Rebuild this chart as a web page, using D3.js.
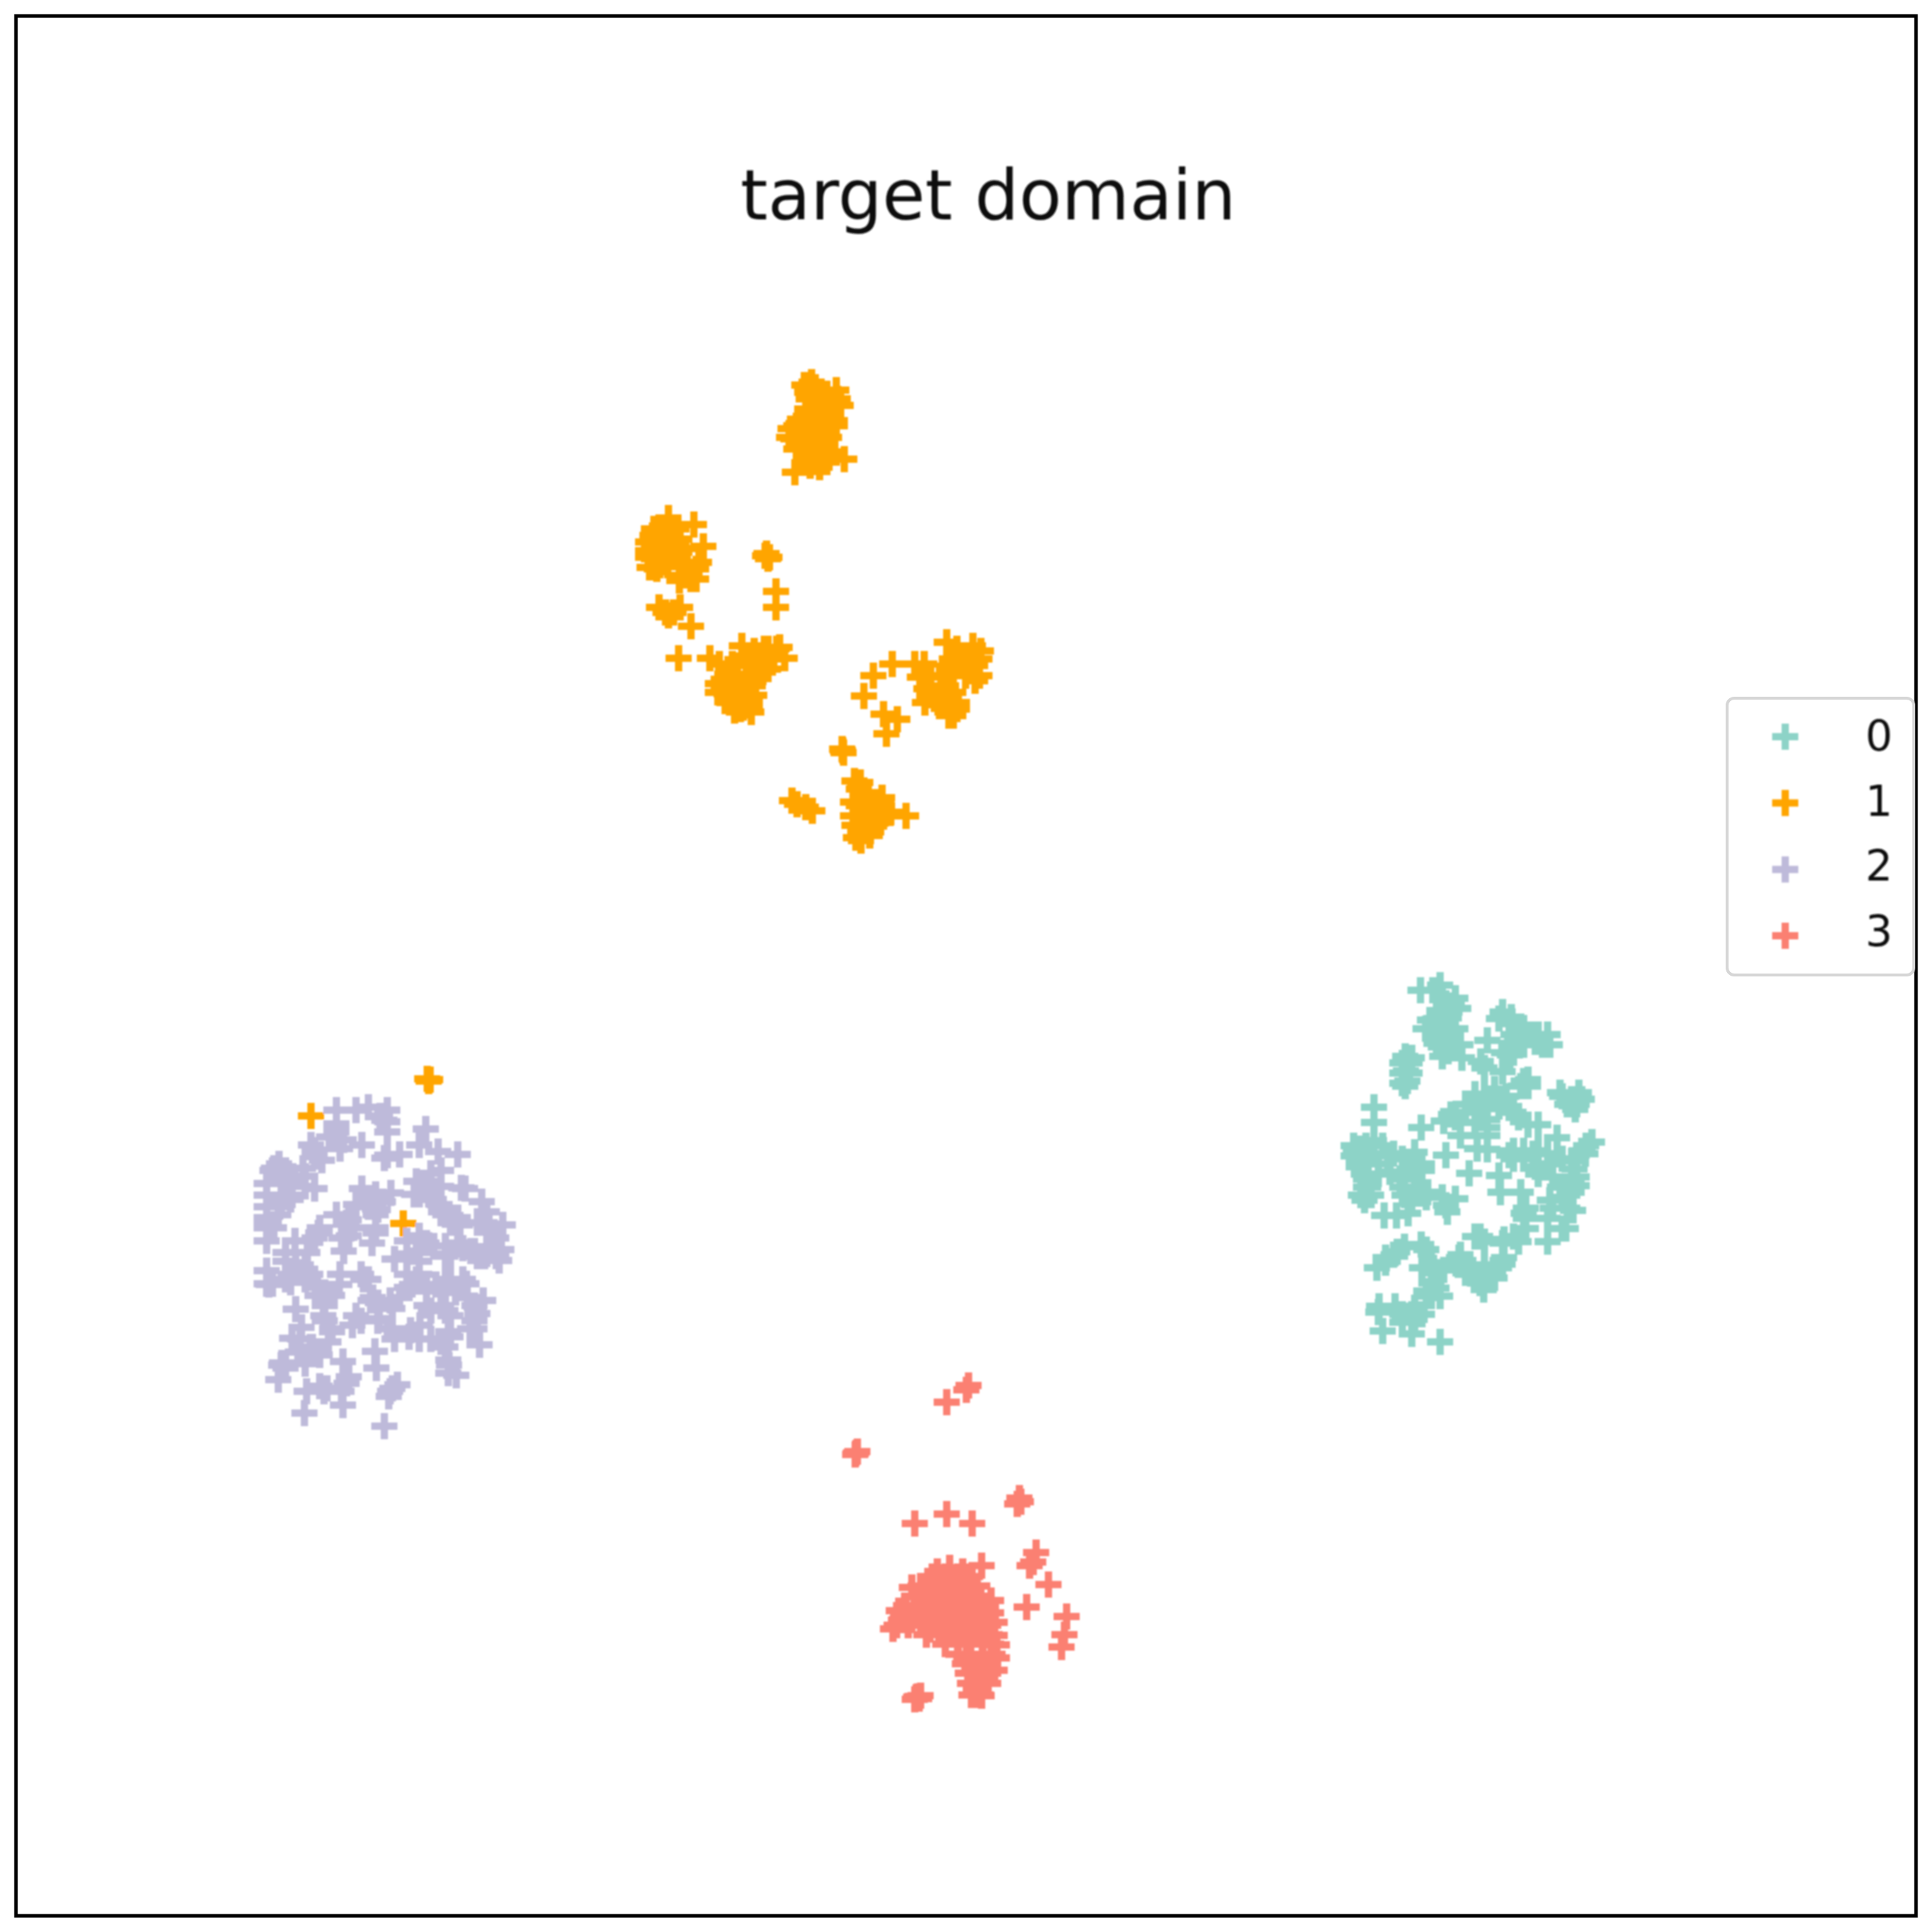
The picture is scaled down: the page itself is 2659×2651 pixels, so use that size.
<!DOCTYPE html>
<html>
    <head>
        <meta charset="utf-8">
        <style>
            html, body { margin: 0; padding: 0; background: #fff; }
            svg { display: block; }
            text { font-family: "DejaVu Sans", sans-serif; fill: #111; }
        </style>
    </head>
    <body>
        <svg width="2659" height="2651"></svg>
        <script src="https://d3js.org/d3.v7.min.js"></script>
        <script>
            //points, one list per class, [x, y]
            var class0 = [[1982,1356],[1955,1363],[1972,1363],[1998,1384],[1982,1391],[2003,1374],[1968,1404],[1995,1393],[1962,1416],[1987,1418],[2003,1416],[1977,1436],[1993,1447],[2012,1456],[1985,1454],[2047,1432],[2038,1461],[2043,1470],[2068,1393],[2080,1400],[2097,1415],[2088,1434],[2113,1434],[2130,1424],[2133,1438],[2078,1452],[2068,1475],[2103,1486],[1934,1454],[1935,1474],[1930,1491],[1934,1495],[2147,1504],[2173,1504],[2163,1520],[2168,1527],[1891,1524],[1891,1545],[1866,1586],[1870,1581],[1891,1570],[1903,1577],[1870,1598],[1882,1602],[1918,1588],[1947,1586],[1957,1611],[1933,1613],[1897,1616],[1880,1634],[1878,1652],[1905,1673],[1922,1673],[1938,1670],[1930,1634],[1947,1634],[1965,1641],[1985,1648],[2003,1650],[1992,1668],[1956,1552],[1987,1543],[2003,1538],[2017,1531],[2033,1524],[2047,1513],[2057,1499],[2073,1509],[2083,1531],[2103,1548],[2117,1548],[1990,1590],[2022,1615],[2010,1563],[2030,1545],[2047,1563],[2033,1581],[2047,1582],[2077,1590],[2097,1595],[2117,1584],[2143,1566],[2191,1572],[2182,1588],[2150,1595],[2167,1609],[2063,1618],[2065,1641],[2093,1641],[2117,1616],[2137,1620],[2170,1632],[2147,1634],[2133,1652],[2165,1666],[2097,1670],[2130,1677],[2150,1691],[2130,1709],[2155,1691],[2030,1702],[2068,1711],[2090,1709],[2100,1691],[2068,1740],[2055,1748],[2042,1775],[2033,1754],[2008,1731],[1973,1745],[1970,1766],[1967,1784],[1982,1784],[1956,1713],[1933,1716],[1918,1727],[1907,1738],[1895,1745],[1898,1798],[1920,1798],[1943,1809],[1947,1800],[1903,1832],[1943,1836],[1982,1847],
                [1977,1402],[1990,1381],[2007,1388],[1970,1416],[1977,1424],[1997,1431],[2010,1438],[1983,1441],[1930,1463],[1940,1463],[1940,1477],[1930,1477],[1937,1488],[1943,1456],
                [2083,1424],[2097,1427],[2107,1424],[2097,1438],[2080,1441],[2117,1424],[2123,1438],[2070,1449],[2083,1449],[2063,1402],[2077,1409],
                [2150,1509],[2163,1513],[2177,1513],[2157,1520],[2170,1520],[2097,1488],[2103,1495],[2093,1495],
                [2030,1506],[2043,1506],[2057,1513],[2043,1523],[2030,1516],[2017,1520],[2063,1523],[2077,1523],[2070,1513],[2047,1541],[2047,1552],[1997,1534],[2010,1545],[2090,1538],
                [1863,1577],[1880,1577],[1863,1591],[1877,1591],[1870,1606],[1877,1616],[1890,1588],[1897,1602],[1910,1591],[1913,1613],[1930,1595],[1940,1609],[1957,1602],[1927,1623],[1880,1623],[1873,1645],[1887,1645],[1883,1634],[1933,1645],[1943,1656],[1963,1648],[1990,1659],
                [2083,1584],[2097,1584],[2110,1588],[2130,1588],[2083,1595],[2130,1602],[2163,1598],[2177,1584],[2183,1577],[2163,1623],[2163,1641],[2150,1648],[2137,1663],[2157,1663],[2170,1620],[2100,1663],[2100,1677],[2113,1606],
                [2070,1706],[2083,1702],[2043,1709],[2037,1702],
                [1923,1723],[1907,1731],[1963,1720],[1970,1738],[1957,1745],[1970,1752],[1987,1748],[2007,1741],[2027,1748],[2043,1741],[2063,1745],[2057,1759],[2037,1766],[2017,1752],[2010,1727],[1963,1777],[1977,1773],[1970,1784],[2070,1731],
                [1930,1809],[1947,1816],[1930,1820],[1897,1806],[1957,1809],[1943,1820]];

            var class1 = [[1117,526],[1122,533],[1111,540],[1126,549],[1138,542],[1151,537],[1113,549],[1145,553],[1157,558],[1126,560],[1140,563],[1122,574],[1103,592],[1086,602],[1099,583],[1111,590],[1122,590],[1138,592],[1149,586],[1119,604],[1134,609],[1141,602],[1103,618],[1094,650],[1128,643],[1162,632],[1138,627],[1122,627],[1115,613],[1099,602],[1149,579],[1130,579],[1111,570],[1096,618],
                [1107,530],[1122,558],[1111,563],[1138,558],[1153,549],[1096,586],[1088,590],[1119,579],[1138,579],[1107,599],[1126,604],[1092,604],[1122,636],[1138,636],[1115,641],[1149,622],
                [920,720],[912,726],[931,728],[898,737],[955,722],[892,746],[892,758],[892,767],[910,751],[927,746],[910,765],[927,767],[968,752],[962,774],[951,797],[894,781],[935,778],[946,774],[919,778],[908,778],[958,797],[935,799],[944,755],[919,755],[904,783],
                [900,728],[920,713],[912,737],[923,737],[935,742],[900,755],[912,774],[923,760],[935,760],[942,792],[958,783],[900,769],
                [1053,765],[1057,769],[1055,762],[1059,767],[1068,814],[1068,836],
                [907,836],[920,847],[936,836],[951,862],[916,843],[927,843],[934,906],
                [977,906],[990,914],[1008,914],[1021,889],[1038,896],[1052,893],[1073,891],[1080,906],[1065,907],[1050,912],[1030,907],[1057,921],[1042,923],[1027,928],[1002,921],[988,941],[1004,939],[1019,944],[1036,944],[1013,962],[1032,962],[1011,976],[1032,971],[1000,955],[1023,958],[1050,925],[996,935],[1023,974],
                [1046,902],[1057,893],[1069,893],[1034,916],[1015,916],[996,944],[1008,953],[1027,948],[1038,957],[1004,967],[1019,976],[1034,980],[1011,978],[988,953],
                [1202,930],[1189,958],[1228,914],[1259,914],[1272,914],[1303,884],[1317,893],[1339,889],[1350,896],[1342,916],[1325,907],[1310,907],[1342,937],[1329,930],[1298,932],[1281,932],[1266,932],[1295,953],[1275,948],[1312,953],[1317,967],[1273,967],[1286,962],[1312,985],[1306,976],[1216,983],[1235,990],[1220,1010],[1302,944],
                [1317,916],[1333,902],[1348,907],[1333,921],[1348,930],[1306,921],[1295,930],[1298,948],[1306,962],[1291,967],[1317,976],[1306,985],[1279,957],
                [1160,1033],[1159,1031],[1161,1036],
                [1090,1102],[1097,1107],[1118,1116],[1109,1111],
                [1176,1075],[1182,1086],[1214,1098],[1193,1104],[1182,1109],[1210,1118],[1174,1123],[1193,1127],[1212,1132],[1247,1123],[1184,1141],[1203,1137],[1178,1153],[1185,1157],[1197,1150],[1187,1118],[1226,1118],[1195,1091],
                [1184,1077],[1187,1095],[1203,1104],[1214,1109],[1184,1123],[1203,1123],[1218,1120],[1176,1136],[1191,1141],[1184,1150],[1199,1113],[1174,1104],
                [428,1536],[588,1485],[592,1486],[590,1488],[555,1684]];

            var class2 = [[463,1528],[490,1528],[507,1524],[533,1528],[529,1542],[533,1558],[463,1558],[463,1547],[498,1576],[468,1581],[428,1576],[433,1592],[586,1554],[577,1576],[603,1585],[630,1589],[550,1589],[529,1594],
                [384,1602],[375,1611],[393,1611],[367,1629],[420,1619],[433,1636],[402,1645],[367,1645],[367,1661],[385,1661],[367,1676],[377,1690],[406,1708],[438,1697],[367,1690],
                [498,1636],[503,1651],[538,1642],[520,1654],[490,1658],[463,1672],[477,1683],[517,1672],[517,1690],[480,1701],[512,1711],[473,1722],[470,1704],
                [573,1626],[593,1626],[607,1611],[635,1635],[570,1644],[590,1644],[605,1658],[663,1654],[630,1676],[620,1683],[673,1685],[692,1686],[683,1704],[690,1720],[687,1735],[657,1729],[670,1726],[648,1722],[630,1711],[613,1729],[597,1715],[577,1701],[560,1708],[543,1733],[560,1731],[577,1736],[560,1754],[577,1754],[613,1761],[642,1767],[610,1776],[665,1790],[643,1786],[627,1779],[587,1777],[567,1768],[550,1786],
                [367,1767],[375,1767],[367,1749],[393,1724],[423,1724],[407,1747],[400,1765],[420,1761],[393,1736],[367,1708],
                [447,1779],[437,1783],[468,1754],[500,1761],[513,1786],[490,1811],[522,1815],[540,1801],[587,1797],[607,1797],[620,1811],[657,1808],[653,1829],[660,1851],[617,1833],[578,1824],[565,1831],[540,1829],[543,1843],[577,1843],[613,1854],[618,1879],[628,1893],[485,1824],[457,1829],[445,1811],[407,1802],[415,1827],[402,1842],[427,1854],[452,1847],[432,1861],[472,1874],[388,1876],[420,1877],[383,1899],[422,1915],[446,1915],[470,1915],[472,1934],[419,1945],[480,1895],[516,1860],[518,1883],[547,1906],[535,1922],[529,1963],[447,1797],
                [463,1554],[453,1565],[473,1569],[433,1583],[443,1597],[523,1536],[533,1544],[533,1590],
                [377,1608],[387,1619],[403,1619],[417,1608],[397,1629],[420,1633],[387,1654],[383,1672],[367,1686],[400,1651],
                [507,1651],[517,1644],[520,1665],[507,1661],[480,1679],[487,1690],[440,1697],[440,1690],[433,1704],[517,1697],[527,1654],
                [593,1615],[583,1633],[577,1644],[597,1651],[607,1633],[640,1636],[670,1668],[667,1683],[657,1683],[620,1676],[633,1686],[613,1672],[607,1668],
                [577,1708],[587,1711],[613,1715],[573,1722],[560,1726],[680,1722],[667,1729],[683,1729],[653,1722],[637,1718],[620,1726],
                [620,1761],[637,1761],[613,1779],[600,1768],[573,1761],[560,1772],
                [410,1751],[420,1747],[393,1761],[370,1768],[427,1754],[400,1754],
                [437,1772],[457,1783],[447,1790],[467,1768],[497,1754],[507,1761],[510,1790],[520,1793],[537,1790],
                [593,1804],[613,1804],[653,1797],[653,1818],[647,1829],[620,1840],[607,1847],[593,1843],[563,1840],[533,1829],[520,1818],[497,1818],
                [447,1818],[457,1833],[430,1854],[440,1865],[413,1843],[410,1861],[393,1883],[387,1879],[440,1908],[450,1911],[477,1904],
                [537,1915],[540,1911],[617,1872],[617,1890]];

            var class3 = [[1333,1907],[1330,1913],[1303,1930],[1178,2000],[1180,1998],[1177,2002],[1403,2062],[1400,2070],[1405,2067],[1303,2084],[1259,2097],[1338,2097],[1426,2137],[1422,2150],[1417,2155],[1443,2181],[1413,2212],[1468,2225],[1465,2250],[1461,2267],[1263,2337],[1263,2335],[1265,2338],[1261,2336],[1259,2339],[1267,2334],
                [1283,2170],[1301,2170],[1318,2170],[1335,2170],[1293,2176],[1310,2176],[1327,2176],
                [1267,2183],[1284,2183],[1301,2183],[1319,2183],[1336,2183],[1345,2183],[1275,2183],
                [1258,2197],[1275,2197],[1292,2197],[1309,2197],[1327,2197],[1344,2197],[1350,2197],[1267,2197],
                [1247,2210],[1266,2210],[1284,2210],[1301,2210],[1318,2210],[1335,2210],[1352,2210],[1357,2210],
                [1243,2223],[1258,2223],[1275,2223],[1292,2223],[1309,2223],[1327,2223],[1344,2223],[1357,2223],
                [1240,2230],[1255,2230],[1272,2230],[1290,2230],
                [1234,2237],[1250,2237],[1267,2237],[1284,2237],[1301,2237],[1318,2237],[1335,2237],[1352,2237],[1360,2237],
                [1280,2243],[1308,2243],[1326,2243],[1344,2243],
                [1275,2250],[1292,2250],[1309,2250],[1327,2250],[1344,2250],[1362,2250],[1229,2242],
                [1301,2263],[1318,2263],[1335,2263],[1352,2263],[1364,2263],
                [1319,2277],[1336,2277],[1353,2277],[1366,2277],[1330,2282],
                [1328,2290],[1345,2290],[1360,2290],[1338,2290],[1352,2290],
                [1332,2303],[1349,2303],[1360,2303],[1340,2303],[1354,2303],
                [1335,2317],[1352,2317],[1343,2317],
                [1337,2333],[1350,2333],[1344,2333],[1343,2325],
                [1364,2203],[1364,2220],[1369,2233],[1369,2251],[1372,2264],[1372,2282],[1369,2299],[1360,2317],[1351,2334],[1351,2155],[1307,2158],[1290,2163],[1325,2163],[1237,2217],[1255,2185]];

            var classes = [class0, class1, class2, class3];
            var labels = ["0", "1", "2", "3"];
            var colors = ["#8dd3c7", "#ffa500", "#bebada", "#fb8072"];
            var title = "target domain";

            var svg = d3.select("svg"),
                width = +svg.attr("width"),
                height = +svg.attr("height");

            var xScale = d3.scaleLinear().domain([0, 2659]).range([0, width]);
            var yScale = d3.scaleLinear().domain([0, 2651]).range([0, height]);
            var legendY = d3.scalePoint().domain(labels).range([1014, 1288]);
            var legendTextY = d3.scalePoint().domain(labels).range([1033, 1302]);

            //the reference is a blown up raster, a small blur gets close to it
            svg.append("defs").append("filter")
            .attr("id", "soft")
            .attr("x", 0).attr("y", 0).attr("width", 1).attr("height", 1)
            .attr("filterUnits", "userSpaceOnUse")
            .attr("width", width).attr("height", height)
            .append("feGaussianBlur")
            .attr("stdDeviation", 1.3);

            //a plus marker, drawn as a stroked path around the origin
            function plus(r){
                var p = d3.path();
                p.moveTo(-r, 0);
                p.lineTo(r, 0);
                p.moveTo(0, -r);
                p.lineTo(0, r);
                return p.toString();
            }
            var marker = plus(18);

            var marks = svg.append("g").attr("filter", "url(#soft)");

            //draw order matters, later classes sit on top
            classes.forEach(function(pts, i){
                marks.append("g")
                .selectAll("path")
                .data(pts)
                .enter()
                .append("path")
                .attr("d", marker)
                .attr("transform", function(d){
                    return "translate(" + xScale(d[0]) + "," + yScale(d[1]) + ")";
                })
                .attr("fill", "none")
                .attr("stroke", colors[i])
                .attr("stroke-width", 10);
            });

            //frame
            svg.append("rect")
            .attr("x", 22)
            .attr("y", 22)
            .attr("width", 2615)
            .attr("height", 2615)
            .attr("fill", "none")
            .attr("stroke", "black")
            .attr("stroke-width", 5);

            svg.append("text")
            .attr("x", 1360)
            .attr("y", 302)
            .attr("text-anchor", "middle")
            .attr("font-size", 96)
            .attr("filter", "url(#soft)")
            .text(title);

            //legend, its right side runs into the frame
            var legend = svg.append("g");
            legend.append("rect")
            .attr("x", 2377)
            .attr("y", 961)
            .attr("width", 257)
            .attr("height", 381)
            .attr("rx", 10)
            .attr("fill", "white")
            .attr("stroke", "#d6d6d6")
            .attr("stroke-width", 4);

            var legendItems = legend.append("g").attr("filter", "url(#soft)");

            legendItems.selectAll("path")
            .data(labels)
            .enter()
            .append("path")
            .attr("d", marker)
            .attr("transform", function(d){
                return "translate(2457," + legendY(d) + ")";
            })
            .attr("fill", "none")
            .attr("stroke", function(d, i){return colors[i];})
            .attr("stroke-width", 10);

            legendItems.selectAll("text")
            .data(labels)
            .enter()
            .append("text")
            .attr("x", 2586)
            .attr("y", function(d){return legendTextY(d);})
            .attr("text-anchor", "middle")
            .attr("font-size", 59)
            .text(function(d){return d;});
        </script>
    </body>
</html>
